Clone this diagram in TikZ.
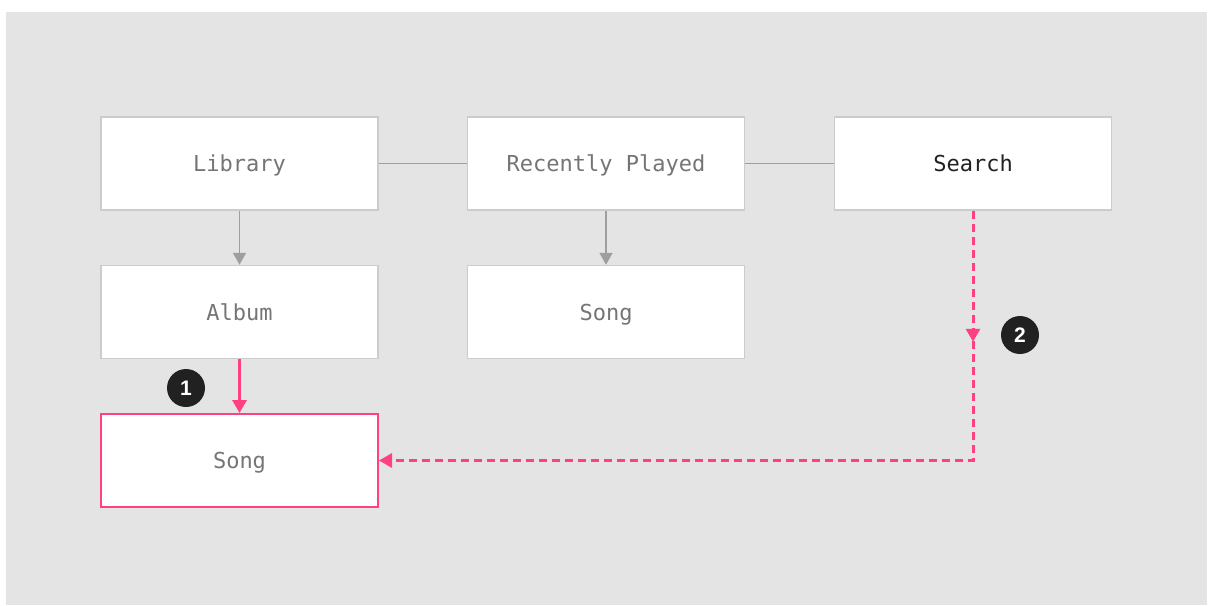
\documentclass[tikz,border=0pt]{standalone}
\usepackage{fontspec}
\setmonofont{DejaVu Sans Mono}
\setsansfont{Liberation Sans}
\usetikzlibrary{arrows.meta,decorations.markings}
\definecolor{bg}{HTML}{E4E4E4}
\definecolor{boxline}{HTML}{CCCCCC}
\definecolor{txt}{HTML}{757575}
\definecolor{dark}{HTML}{212121}
\definecolor{conn}{HTML}{9E9E9E}
\definecolor{pink}{HTML}{FF4081}
\begin{document}
\begin{tikzpicture}[x=1pt,y=-1pt,
  screen/.style={draw=boxline, line width=1.5pt, fill=white, minimum width=277pt, minimum height=93pt, inner sep=0pt, text depth=0pt, font=\ttfamily\fontsize{22}{24}\selectfont, text=txt},
  hot/.style={screen, draw=pink, line width=2pt},
  link/.style={draw=conn, line width=1.7pt},
  nav/.style={link, -{Triangle[width=13pt,length=12pt]}},
  jump/.style={draw=pink, line width=3pt, -{Triangle[width=14pt,length=13pt]}},
  badge/.style={circle, fill=dark, minimum size=38pt, inner sep=0pt, text=white, font=\sffamily\bfseries\fontsize{21}{22}\selectfont}
]
\useasboundingbox (0,0) rectangle (1214,605);
\fill[bg] (6,12) rectangle (1207,605);

\node[screen] (lib) at (239.5,163.5) {Library};
\node[screen] (rp) at (606,163.5) {Recently Played};
\node[screen, text=dark] (search) at (973,163.5) {Search};
\node[screen] (album) at (239.5,312) {Album};
\node[screen] (song2) at (606,312) {Song};
\node[hot] (song) at (239.5,460.5) {Song};

\draw[link] (lib.east) -- (rp.west);
\draw[link] (rp.east) -- (search.west);
\draw[nav] (lib.south) -- (album.north);
\draw[nav] (rp.south) -- (song2.north);
\draw[jump] (album.south) -- (song.north);

\coordinate (corner) at (search.south |- song.east);
\draw[jump, dash pattern=on 8pt off 5pt,
  postaction={decorate, decoration={markings, mark=at position 131pt with {\arrow[solid]{Triangle[width=14pt,length=13pt]}}}}]
  (search.south) -- (corner) -- (song.east);

\node[badge] (b1) at (186,388) {1};
\node[badge] (b2) at (1020,335) {2};
\end{tikzpicture}
\end{document}
